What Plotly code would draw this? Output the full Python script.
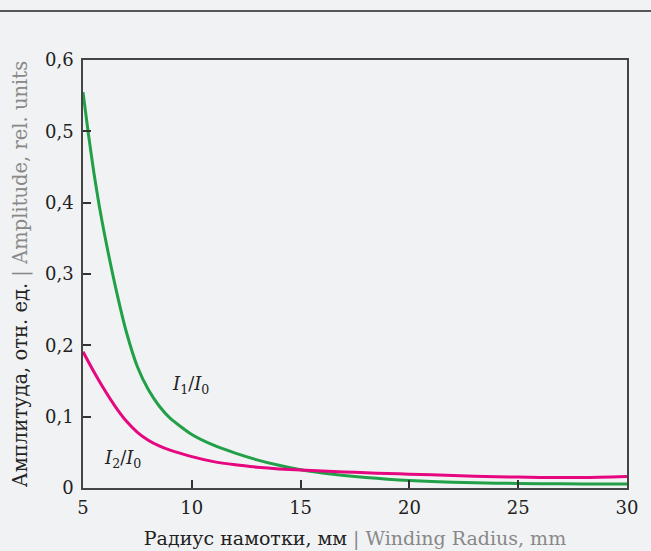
import plotly.graph_objects as go

# Data
x_green = [5, 5.25, 5.5, 5.75, 6, 6.5, 7, 7.5, 8, 8.5, 9, 10, 11, 12, 13, 14, 15,
           16, 17, 18, 19, 20, 22, 24, 26, 28, 30]
i1_i0 = [0.555, 0.496, 0.442, 0.395, 0.354, 0.281, 0.218, 0.170, 0.138, 0.115, 0.098,
         0.075, 0.060, 0.049, 0.0395, 0.0318, 0.0255, 0.021, 0.0175, 0.0148, 0.0123,
         0.0104, 0.0081, 0.0068, 0.0061, 0.0057, 0.0055]

x_pink = [5, 5.5, 6, 6.5, 7, 7.5, 8, 8.5, 9, 10, 11, 12, 13, 14, 15, 16, 17, 18, 19,
          20, 22, 24, 26, 28, 30]
i2_i0 = [0.191, 0.163, 0.137, 0.1135, 0.0935, 0.078, 0.067, 0.059, 0.053, 0.044, 0.037,
         0.0325, 0.0292, 0.0268, 0.0252, 0.0238, 0.0225, 0.0214, 0.0203, 0.0194, 0.0175,
         0.0158, 0.0148, 0.0146, 0.016]

y_tickvals = [0, 0.1, 0.2, 0.3, 0.4, 0.5, 0.6]
y_ticktext = ["0", "0,1", "0,2", "0,3", "0,4", "0,5", "0,6"]
x_tickvals = [5, 10, 15, 20, 25, 30]
x_ticktext = ["5", "10", "15", "20", "25", "30"]

FONT = "DejaVu Serif"
BG = "#f1f2f4"
GREEN = "#21a047"
PINK = "#e6067f"

fig = go.Figure()
fig.add_trace(go.Scatter(x=x_green, y=i1_i0, mode="lines",
                         line=dict(color=GREEN, width=3, shape="spline", smoothing=0.6),
                         showlegend=False, hoverinfo="skip"))
fig.add_trace(go.Scatter(x=x_pink, y=i2_i0, mode="lines",
                         line=dict(color=PINK, width=3, shape="spline", smoothing=0.6),
                         showlegend=False, hoverinfo="skip"))

fig.add_annotation(x=9.95, y=0.144, text="<i>I</i><sub>1</sub>/<i>I</i><sub>0</sub>",
                   showarrow=False, font=dict(family=FONT, size=18, color="#222"))
fig.add_annotation(x=6.8, y=0.041, text="<i>I</i><sub>2</sub>/<i>I</i><sub>0</sub>",
                   showarrow=False, font=dict(family=FONT, size=18, color="#222"))

# top rule across the full width
fig.add_shape(type="line", xref="paper", yref="paper",
              x0=-83 / 544, x1=1 + 24 / 544, y0=1 + 49 / 428, y1=1 + 49 / 428,
              line=dict(color="#222", width=1.5))

fig.update_layout(
    width=651, height=551,
    margin=dict(l=83, r=24, t=60, b=63, autoexpand=False),
    paper_bgcolor=BG, plot_bgcolor=BG,
    font=dict(family=FONT, size=17, color="#222"),
    xaxis=dict(range=[5, 30], tickvals=x_tickvals, ticktext=x_ticktext, automargin=False,
               showgrid=False, zeroline=False, showline=True, mirror=True,
               linecolor="#444", linewidth=1.5, ticks="inside", ticklen=8,
               tickcolor="#333", tickwidth=1.5, ticklabelstandoff=3,
               tickfont=dict(family=FONT, size=18, color="#222"),
               title=dict(text="Радиус намотки, мм <span style='color:#888'>| Winding Radius, mm</span>",
                          font=dict(family=FONT, size=19, color="#222"), standoff=14)),
    yaxis=dict(range=[0, 0.6], tickvals=y_tickvals, ticktext=y_ticktext, automargin=False,
               showgrid=False, zeroline=False, showline=True, mirror=True,
               linecolor="#444", linewidth=1.5, ticks="inside", ticklen=8,
               tickcolor="#333", tickwidth=1.5, ticklabelstandoff=4,
               tickfont=dict(family=FONT, size=18, color="#222"),
               title=dict(text="Амплитуда, отн. ед. <span style='color:#888'>| Amplitude, rel. units</span>",
                          font=dict(family=FONT, size=19.5, color="#222"), standoff=12)),
)

fig.write_html("out.html", config={"displayModeBar": False},
               post_script="document.body.style.margin='0';document.body.style.padding='0';")
